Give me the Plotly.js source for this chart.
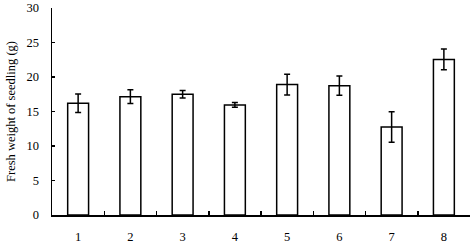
<!DOCTYPE html>
<html><head><meta charset="utf-8">
<script src="https://cdn.plot.ly/plotly-3.0.1.min.js"></script>
<style>html,body{margin:0;padding:0;background:#fff}#chart{width:472px;height:243px}</style>
</head><body><div id="chart"></div>
<script>
const categories = ['1','2','3','4','5','6','7','8'];
const freshWeight = [16.2, 17.15, 17.5, 15.95, 18.9, 18.75, 12.75, 22.55];
const errorValues = [1.35, 1.0, 0.55, 0.35, 1.5, 1.4, 2.2, 1.5];
const yTickValues = [0, 5, 10, 15, 20, 25, 30];

const fam = '"Liberation Serif", "Times New Roman", serif';
const trace = {
  type: 'bar', x: categories, y: freshWeight,
  marker: {color: '#ffffff', line: {color: '#000000', width: 1.5}},
  error_y: {type: 'data', array: errorValues, visible: true, color: '#000000', thickness: 1.5, width: 3},
  hoverinfo: 'none'
};
const layout = {
  width: 472, height: 243,
  margin: {l: 52, r: 2, t: 8, b: 28},
  paper_bgcolor: '#ffffff', plot_bgcolor: '#ffffff',
  bargap: 0.6, showlegend: false,
  font: {family: fam, size: 12, color: '#000000'},
  xaxis: {type: 'category', tickson: 'boundaries', ticks: 'inside', ticklen: 4, tickwidth: 1.5, tickcolor: '#000000',
    showline: true, linecolor: '#000000', linewidth: 1.5, showgrid: false, zeroline: false,
    ticklabelstandoff: 9, tickfont: {family: fam, size: 12.5, color: '#000000'}},
  yaxis: {range: [0, 30], tickvals: yTickValues, ticks: 'inside', ticklen: 3, tickwidth: 1.5, tickcolor: '#000000',
    showline: true, linecolor: '#000000', linewidth: 1.5, showgrid: false, zeroline: false,
    ticklabelstandoff: 9, tickfont: {family: fam, size: 12.5, color: '#000000'},
    title: {text: 'Fresh weight of seedling (g)', font: {family: fam, size: 12.5, color: '#000000'}, standoff: 8}}
};
Plotly.newPlot('chart', [trace], layout, {staticPlot: true, displayModeBar: false});
</script></body></html>
